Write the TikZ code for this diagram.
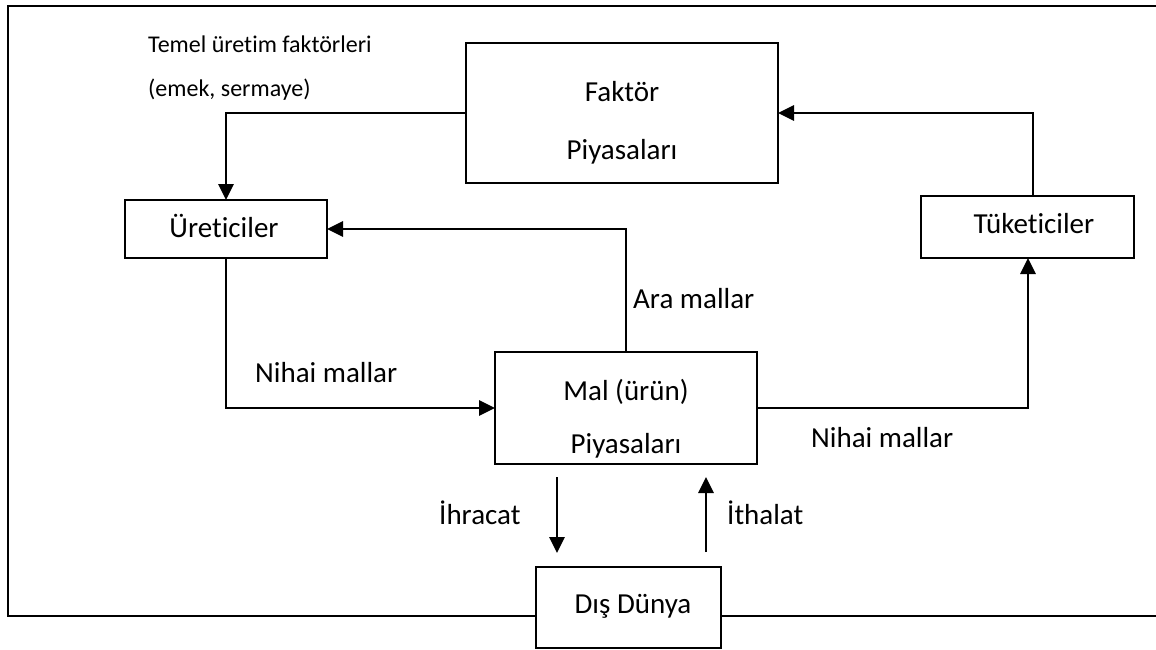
\documentclass[tikz,border=0pt]{standalone}
\usepackage{fontspec}
\setmainfont{Carlito}[Ligatures={NoCommon}]
\usetikzlibrary{arrows.meta}
\begin{document}
\begin{tikzpicture}[x=1pt,y=-1pt,
  box/.style={draw=black,line width=1.7pt,fill=white,inner sep=0pt,outer sep=0pt},
  big/.style={inner sep=0pt,anchor=base,font=\fontsize{29}{35}\selectfont},
  lbl/.style={inner sep=0pt,anchor=base west,font=\fontsize{29}{35}\selectfont},
  small/.style={inner sep=0pt,anchor=base west,font=\fontsize{24}{29}\selectfont},
  flow/.style={line width=2.8pt,-{Triangle[length=16pt,width=15pt]}},
  frame/.style={line width=2pt}]
\useasboundingbox (0,0) rectangle (1156,650);
% frame
\draw[frame] (1156,6) -- (7.7,6) -- (7.7,616) -- (1156,616);
% boxes
\node[box,minimum width=312pt,minimum height=140pt] (fak) at (622,113) {};
\node[box,minimum width=202pt,minimum height=58pt] (ure) at (226,229) {};
\node[box,minimum width=213pt,minimum height=62pt] (tuk) at (1027.5,227) {};
\node[box,minimum width=262pt,minimum height=112pt] (mal) at (626,408) {};
\node[box,minimum width=185pt,minimum height=81pt] (dis) at (628.5,607.5) {};
% box texts
\node[big] (fak1) at (622,102) {Faktör};
\node[big] (fak2) at (622,159) {Piyasaları};
\node[big] (ure1) at (224,237) {Üreticiler};
\node[big] (tuk1) at (1034,233) {Tüketiciler};
\node[big] (mal1) at (626,400) {Mal (ürün)};
\node[big] (mal2) at (626,453) {Piyasaları};
\node[big] (dis1) at (633,613) {Dış Dünya};
% labels
\node[small] (tem1) at (148,53) {Temel üretim faktörleri};
\node[small] (tem2) at (148,97) {(emek, sermaye)};
\node[lbl] (nih1) at (255,382) {Nihai mallar};
\node[lbl] (ara) at (633,308) {Ara mallar};
\node[lbl] (nih2) at (811,447) {Nihai mallar};
\node[lbl] (ihr) at (439,524) {İhracat};
\node[lbl] (ith) at (727,524) {İthalat};
% connectors
\draw[flow] (fak.west |- 0,113) -- (226,113) -- (ure.north);
\draw[flow] ([xshift=5.5pt]tuk.north) |- (fak.east);
\draw[flow] (mal.north) |- (ure.east);
\draw[flow] (ure.south) |- (mal.west);
\draw[flow] (mal.east) -| ([xshift=0.5pt]tuk.south);
\coordinate (ihrA) at (557,477);
\coordinate (ihrB) at (557,553);
\coordinate (ithA) at (706,552);
\coordinate (ithB) at (706,477);
\draw[flow] (ihrA) -- (ihrB);
\draw[flow] (ithA) -- (ithB);
\end{tikzpicture}
\end{document}
